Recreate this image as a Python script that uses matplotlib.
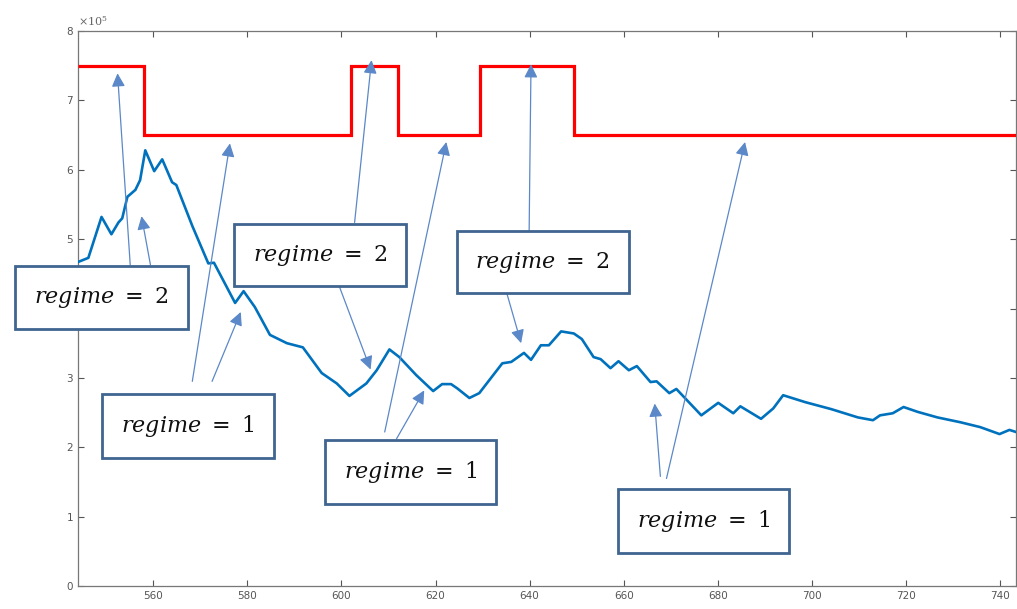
import numpy as np
import matplotlib
matplotlib.use('Agg')
import matplotlib.pyplot as plt

plt.rcParams.update({
    'font.family': 'DejaVu Sans',
    'mathtext.fontset': 'dejavuserif',
    'xtick.direction': 'in',
    'ytick.direction': 'in',
})

# ── series (values in units of 1e5) ─────────────────────────────────────────
t_series = [544.0, 546.2, 549.0, 551.1, 552.6, 553.4, 554.5, 556.2, 557.2,
            558.3, 560.2, 561.9, 564.0, 564.9, 568.3, 571.7, 572.9, 577.4,
            579.2, 581.6, 584.8, 588.4, 591.8, 595.8, 599.0, 601.7, 605.3,
            607.5, 610.2, 612.3, 615.9, 619.5, 621.4, 623.3, 624.6, 627.2,
            629.3, 634.2, 636.1, 638.8, 640.3, 642.4, 644.1, 646.7, 649.4,
            651.1, 653.6, 655.1, 657.2, 658.9, 661.1, 662.8, 665.7, 667.0,
            669.7, 671.2, 676.5, 680.1, 683.3, 684.8, 689.2, 691.8, 693.9,
            698.6, 704.1, 709.8, 713.0, 714.5, 717.2, 719.5, 722.5, 726.7,
            731.6, 735.8, 739.9, 742.0, 743.4]
y_series = [4.67, 4.73, 5.32, 5.07, 5.24, 5.30, 5.61, 5.71, 5.85,
            6.28, 5.98, 6.15, 5.82, 5.78, 5.19, 4.65, 4.66, 4.08,
            4.25, 4.02, 3.62, 3.50, 3.44, 3.07, 2.92, 2.74, 2.92,
            3.11, 3.41, 3.30, 3.04, 2.81, 2.91, 2.91, 2.85, 2.71,
            2.78, 3.21, 3.23, 3.36, 3.26, 3.47, 3.47, 3.67, 3.64,
            3.56, 3.30, 3.27, 3.14, 3.24, 3.11, 3.17, 2.94, 2.95,
            2.78, 2.84, 2.46, 2.64, 2.49, 2.59, 2.41, 2.56, 2.75,
            2.65, 2.55, 2.43, 2.39, 2.46, 2.49, 2.58, 2.51, 2.43,
            2.36, 2.29, 2.19, 2.25, 2.22]

# regime indicator drawn as a step curve
regime_edges = [544, 558, 602, 612, 629.5, 649.5, 743.4]
regime_level = [7.5, 6.5, 7.5, 6.5, 7.5, 6.5]

x_ticks = [560, 580, 600, 620, 640, 660, 680, 700, 720, 740]
y_ticks = [0, 1, 2, 3, 4, 5, 6, 7, 8]

# annotation boxes: (label, box centre, [(tail, head), ...])
notes = [
    ('$regime\\ =\\ 2$', (549.0, 4.16),
     [((555.1, 4.63), (552.4, 7.39)), ((559.4, 4.63), (557.5, 5.33))]),
    ('$regime\\ =\\ 1$', (567.4, 2.31),
     [((568.3, 2.95), (576.3, 6.38)), ((572.5, 2.95), (578.6, 3.95))]),
    ('$regime\\ =\\ 2$', (595.4, 4.77),
     [((602.8, 5.24), (606.4, 7.58)), ((599.6, 4.31), (606.2, 3.12))]),
    ('$regime\\ =\\ 1$', (614.7, 1.64),
     [((609.2, 2.22), (622.3, 6.40)), ((611.7, 2.12), (617.6, 2.82))]),
    ('$regime\\ =\\ 2$', (642.8, 4.67),
     [((639.9, 5.10), (640.3, 7.52)), ((635.2, 4.21), (638.2, 3.50))]),
    ('$regime\\ =\\ 1$', (677.0, 0.94),
     [((669.1, 1.55), (685.8, 6.40)), ((667.8, 1.58), (666.6, 2.63))]),
]

fig = plt.figure(figsize=(10.17, 6.09), dpi=100)
ax = fig.add_axes([78 / 1017, 23 / 609, 938 / 1017, 555 / 609])

ax.stairs(regime_level, regime_edges, color='#ff0000', lw=2.3,
          baseline=None, zorder=3)
ax.plot(t_series, y_series, color='#0072bd', lw=1.9, zorder=3)

ax.set_xlim(544, 743.4)
ax.set_ylim(0, 8)
ax.set_xticks(x_ticks)
ax.set_yticks(y_ticks)
ax.tick_params(top=True, right=True, labelsize=7.5, colors='#555555',
               length=4, width=0.8)
for s in ax.spines.values():
    s.set_color('#777777')
    s.set_linewidth(0.9)
ax.text(0.0, 1.005, r'$\times10^5$', transform=ax.transAxes,
        fontsize=8, color='#666666', ha='left', va='bottom')

for label, (bx, by), arrows in notes:
    for tail, head in arrows:
        ax.annotate('', xy=head, xytext=tail, annotation_clip=False,
                    arrowprops=dict(arrowstyle='-|>', color='#5b88c8',
                                    lw=0.9, mutation_scale=20,
                                    shrinkA=0, shrinkB=0),
                    zorder=4)
    ax.text(bx, by, label, fontsize=16, ha='center', va='center',
            color='#111111', zorder=5, clip_on=False,
            bbox=dict(boxstyle='square,pad=0.85', fc='white',
                      ec='#3f6590', lw=2.0))

fig.savefig('out.png', dpi=100, facecolor='white')
